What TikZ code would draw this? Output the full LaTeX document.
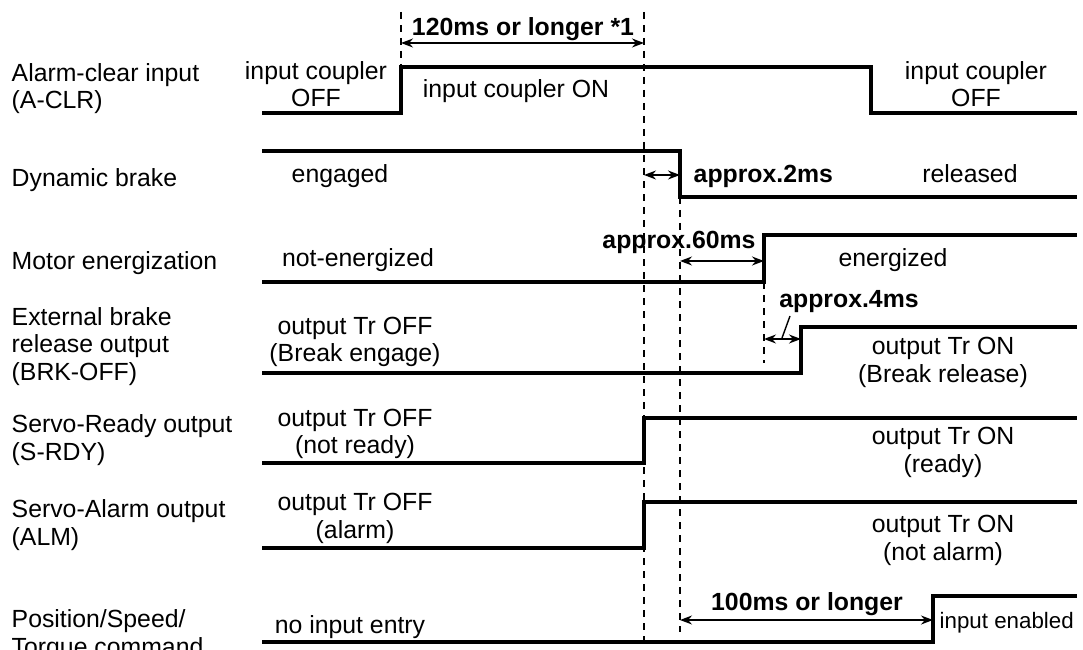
\documentclass[tikz,border=0pt]{standalone}
\usepackage{fontspec}
\setmainfont{Liberation Sans}
\usetikzlibrary{arrows.meta}

\begin{document}
\begin{tikzpicture}[
  every node/.style={inner sep=0pt,font=\fontsize{7.06pt}{7.7pt}\selectfont},
  sig/.style={line width=0.95pt},
  guide/.style={line width=0.4pt,dash pattern=on 0.07cm off 0.06cm},
  dim/.style={line width=0.4pt,{Stealth[length=0.12cm,width=0.09cm]}-{Stealth[length=0.12cm,width=0.09cm]}},
  lbl/.style={font=\fontsize{7.06pt}{7.7pt}\selectfont\bfseries},
  state/.style={align=center},
  signame/.style={align=left}]
    \useasboundingbox (0,0) rectangle (10.83,-6.5);
    % signal traces
    \draw[sig] (2.62,-1.13) -- (4.01,-1.13) -- (4.01,-0.67) -- (8.71,-0.67) -- (8.71,-1.13) -- (10.77,-1.13);
    \draw[sig] (2.62,-1.51) -- (6.80,-1.51) -- (6.80,-1.97) -- (10.77,-1.97);
    \draw[sig] (2.62,-2.82) -- (7.64,-2.82) -- (7.64,-2.35) -- (10.77,-2.35);
    \draw[sig] (2.62,-3.73) -- (8.01,-3.73) -- (8.01,-3.27) -- (10.77,-3.27);
    \draw[sig] (2.62,-4.63) -- (6.44,-4.63) -- (6.44,-4.18) -- (10.77,-4.18);
    \draw[sig] (2.62,-5.48) -- (6.44,-5.48) -- (6.44,-5.02) -- (10.77,-5.02);
    \draw[sig] (2.62,-6.42) -- (9.33,-6.42) -- (9.33,-5.96) -- (10.77,-5.96);
    % timing guides
    \draw[guide] (4.01,-0.12) -- (4.01,-0.67);
    \draw[guide] (6.44,-0.12) -- (6.44,-6.42);
    \draw[guide] (6.80,-1.97) -- (6.80,-6.32);
    \draw[guide] (7.64,-2.82) -- (7.64,-3.63);
    % intervals
    \draw[dim] (4.01,-0.43) -- (6.44,-0.43);
    \draw[dim] (6.44,-1.75) -- (6.80,-1.75);
    \draw[dim] (6.80,-2.61) -- (7.64,-2.61);
    \draw[dim] (7.64,-3.39) -- (8.01,-3.39);
    \draw[line width=0.4pt] (7.82,-3.38) -- (7.90,-3.16);
    \draw[dim] (6.80,-6.20) -- (9.33,-6.20);
    \node[lbl,anchor=base] (t120) at (5.23,-0.36) {120ms or longer *1};
    \node[lbl,anchor=base west] (t2) at (6.93,-1.83) {approx.2ms};
    \node[lbl,anchor=base] (t60) at (6.79,-2.49) {approx.60ms};
    \node[lbl,anchor=base] (t4) at (8.49,-3.08) {approx.4ms};
    \node[lbl,anchor=base] (t100) at (8.07,-6.10) {100ms or longer};
    % signal names
    \node[signame,anchor=base west] (aclr) at (0.11,-1.09) {Alarm-clear input\\(A-CLR)};
    \node[signame,anchor=base west] (dbrk) at (0.11,-1.87) {Dynamic brake};
    \node[signame,anchor=base west] (menr) at (0.11,-2.70) {Motor energization};
    \node[signame,anchor=base west] (brkoff) at (0.11,-3.80) {External brake\\release output\\(BRK-OFF)};
    \node[signame,anchor=base west] (srdy) at (0.11,-4.60) {Servo-Ready output\\(S-RDY)};
    \node[signame,anchor=base west] (alm) at (0.11,-5.45) {Servo-Alarm output\\(ALM)};
    \node[signame,anchor=base west] (cmd) at (0.11,-6.55) {Position/Speed/\\Torque command};
    % states
    \node[state,anchor=base] (aclr0) at (3.16,-1.07) {input coupler\\OFF};
    \node[state,anchor=base] (aclr1) at (5.16,-0.98) {input coupler ON};
    \node[state,anchor=base] (aclr2) at (9.76,-1.07) {input coupler\\OFF};
    \node[state,anchor=base] (dbrk0) at (3.40,-1.83) {engaged};
    \node[state,anchor=base] (dbrk1) at (9.70,-1.83) {released};
    \node[state,anchor=base] (menr0) at (3.58,-2.67) {not-energized};
    \node[state,anchor=base] (menr1) at (8.93,-2.67) {energized};
    \node[state,anchor=base] (brkoff0) at (3.55,-3.62) {output Tr OFF\\(Break engage)};
    \node[state,anchor=base] (brkoff1) at (9.43,-3.82) {output Tr ON\\(Break release)};
    \node[state,anchor=base] (srdy0) at (3.55,-4.54) {output Tr OFF\\(not ready)};
    \node[state,anchor=base] (srdy1) at (9.43,-4.72) {output Tr ON\\(ready)};
    \node[state,anchor=base] (alm0) at (3.55,-5.38) {output Tr OFF\\(alarm)};
    \node[state,anchor=base] (alm1) at (9.43,-5.60) {output Tr ON\\(not alarm)};
    \node[state,anchor=base] (cmd0) at (3.50,-6.33) {no input entry};
    \node[state,anchor=base west,font=\fontsize{6.35pt}{7pt}\selectfont] (cmd1) at (9.39,-6.28) {input enabled};
\end{tikzpicture}
\end{document}
